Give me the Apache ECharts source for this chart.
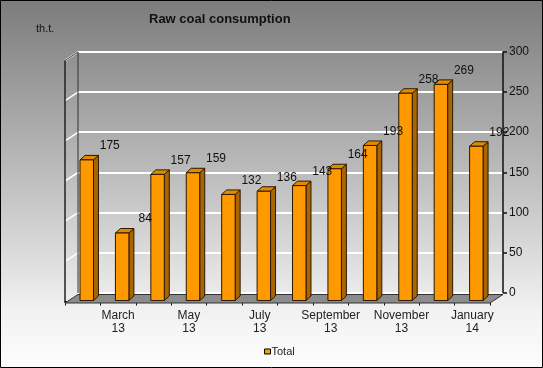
<!DOCTYPE html>
<html><head><meta charset="utf-8">
<script src="https://cdn.jsdelivr.net/npm/echarts@6/dist/echarts.min.js"></script>
<style>html,body{margin:0;padding:0;background:#fff;}#c{width:543px;height:368px;}</style>
</head><body><div id="c"></div>
<script>
// ---- data ----
const categories = ['February\n13','March\n13','April\n13','May\n13','June\n13','July\n13','August\n13','September\n13','October\n13','November\n13','December\n13','January\n14'];
const totalValues = [175, 84, 157, 159, 132, 136, 143, 164, 193, 258, 269, 192];
const seriesName = 'Total';
const unitLabel = 'th.t.';
const chartTitle = 'Raw coal consumption';
const yMin = 0, yMax = 300, yStep = 50;

// ---- style constants ----
const FONT = '"Liberation Sans", Arial, sans-serif';
const DX = 13, DY = -8.5;      // wall depth
const BDX = 5, BDY = -4.5;     // bar depth

const chart = echarts.init(document.getElementById('c'), null, {renderer: 'canvas'});

const barData = totalValues.map((v, i) => [i, v]);

function renderDecor(params, api) {
  const cs = params.coordSys;
  const x = cs.x, w = cs.width;
  const yb = api.coord([0, yMin])[1];
  const yt = api.coord([0, yMax])[1];
  const children = [];
  for (let v = yMin + yStep; v <= yMax; v += yStep) {
    const y = api.coord([0, v])[1];
    children.push({type: 'line', shape: {x1: x, y1: y, x2: x + DX, y2: y + DY},
      style: {stroke: '#ffffff', lineWidth: 1.5}});
  }
  children.push({type: 'line', shape: {x1: x + DX, y1: yt + DY, x2: x + DX, y2: yb + DY},
    style: {stroke: '#333', lineWidth: 1}});
  children.push({type: 'line', shape: {x1: x, y1: yt, x2: x + DX, y2: yt + DY},
    style: {stroke: '#444', lineWidth: 1}});
  children.push({type: 'line', shape: {x1: x, y1: yt, x2: x, y2: yb + 1.5},
    style: {stroke: '#222', lineWidth: 1.5}});
  children.push({type: 'polygon', shape: {points: [[x, yb + 1.5], [x + w, yb + 1.5], [x + w + DX, yb + 1.5 + DY], [x + DX, yb + 1.5 + DY]]},
    style: {fill: '#8c8c8c', stroke: '#333', lineWidth: 1}});
  return {type: 'group', children: children};
}

function renderBar(params, api) {
  const i = api.value(0), v = api.value(1);
  const top = api.coord([i, v]);
  const base = api.coord([i, 0]);
  const cw = api.size([1, 0])[0];
  const x0 = base[0] - cw * 0.076;
  const x1 = x0 + cw * 0.38;
  const yb = base[1] - 1, yt = top[1] - 1;
  const st = {stroke: '#2a1800', lineWidth: 1};
  return {type: 'group', children: [
    {type: 'polygon', shape: {points: [[x1, yb], [x1 + BDX, yb + BDY], [x1 + BDX, yt + BDY], [x1, yt]]},
      style: Object.assign({fill: '#a96500'}, st)},
    {type: 'polygon', shape: {points: [[x0, yt], [x1, yt], [x1 + BDX, yt + BDY], [x0 + BDX, yt + BDY]]},
      style: Object.assign({fill: '#e38a00'}, st)},
    {type: 'rect', shape: {x: x0, y: yt, width: x1 - x0, height: yb - yt},
      style: Object.assign({fill: '#ff9900'}, st)}
  ]};
}

function renderLabel(params, api) {
  const i = api.value(0), v = api.value(1);
  const top = api.coord([i, v]);
  const base = api.coord([i, 0]);
  const cw = api.size([1, 0])[0];
  const cx = base[0] - cw * 0.076 + cw * 0.19 + 23;
  return {type: 'text', x: cx, y: top[1] - 15,
    style: {text: String(v), fill: '#111', font: '12px ' + FONT, textAlign: 'center', textVerticalAlign: 'middle'}};
}

const option = {
  animation: false,
  backgroundColor: {type: 'linear', x: 0, y: 0, x2: 0, y2: 1,
    colorStops: [{offset: 0, color: '#7c7c7c'}, {offset: 0.45, color: '#b9b9b9'}, {offset: 0.85, color: '#f2f2f2'}, {offset: 1, color: '#fdfdfd'}]},
  title: {text: chartTitle, left: 149, top: 13, padding: 0,
    textStyle: {fontSize: 13, fontWeight: 'bold', color: '#111', fontFamily: FONT}},
  graphic: [
    {type: 'text', left: 36, top: 23, style: {text: unitLabel, fill: '#111', font: '11px ' + FONT}},
    {type: 'rect', shape: {x: 0.5, y: 0.5, width: 542, height: 367}, style: {fill: 'none', stroke: '#000', lineWidth: 1}, z: 100}
  ],
  legend: {data: [{name: seriesName, icon: 'rect'}], left: 264, top: 346, padding: 0, itemWidth: 6, itemHeight: 5, itemGap: 4,
    textStyle: {fontSize: 11, color: '#222', fontFamily: FONT, padding: [0, 0, 0, -4]},
    itemStyle: {borderColor: '#000', borderWidth: 1}},
  grid: [
    {left: 78, right: 40, top: 52, bottom: 75.5},
    {left: 65, right: 53, top: 60.5, bottom: 66.5}
  ],
  xAxis: [
    {gridIndex: 0, type: 'category', data: categories, show: false},
    {gridIndex: 1, type: 'category', data: categories, offset: 1.5,
      axisLine: {show: true, lineStyle: {color: '#111', width: 1}},
      axisTick: {show: true, interval: 0, length: 4, lineStyle: {color: '#111'}},
      axisLabel: {interval: function (idx) { return idx % 2 === 1; }, color: '#222', fontSize: 12, fontFamily: FONT, lineHeight: 13, margin: 6}}
  ],
  yAxis: [
    {gridIndex: 0, type: 'value', position: 'right', min: yMin, max: yMax, interval: yStep,
      axisLine: {show: true, lineStyle: {color: '#111', width: 1.5}},
      axisTick: {show: true, length: 4, lineStyle: {color: '#111', width: 1.5}},
      axisLabel: {color: '#111', fontSize: 12, fontFamily: FONT, margin: 6},
      splitLine: {show: true, lineStyle: {color: '#ffffff', width: 2}}},
    {gridIndex: 1, type: 'value', min: yMin, max: yMax, interval: yStep, show: false, splitLine: {show: false}}
  ],
  series: [
    {type: 'custom', name: 'decor', xAxisIndex: 1, yAxisIndex: 1, data: [[0]], renderItem: renderDecor, z: 1, silent: true},
    {type: 'custom', name: seriesName, xAxisIndex: 1, yAxisIndex: 1, data: barData, renderItem: renderBar, z: 2,
      itemStyle: {color: '#ff9900'}, encode: {x: 0, y: 1}},
    {type: 'custom', name: 'labels', xAxisIndex: 1, yAxisIndex: 1, data: barData, renderItem: renderLabel, z: 3, silent: true, encode: {x: 0, y: 1}}
  ]
};
chart.setOption(option);
</script>
</body></html>
